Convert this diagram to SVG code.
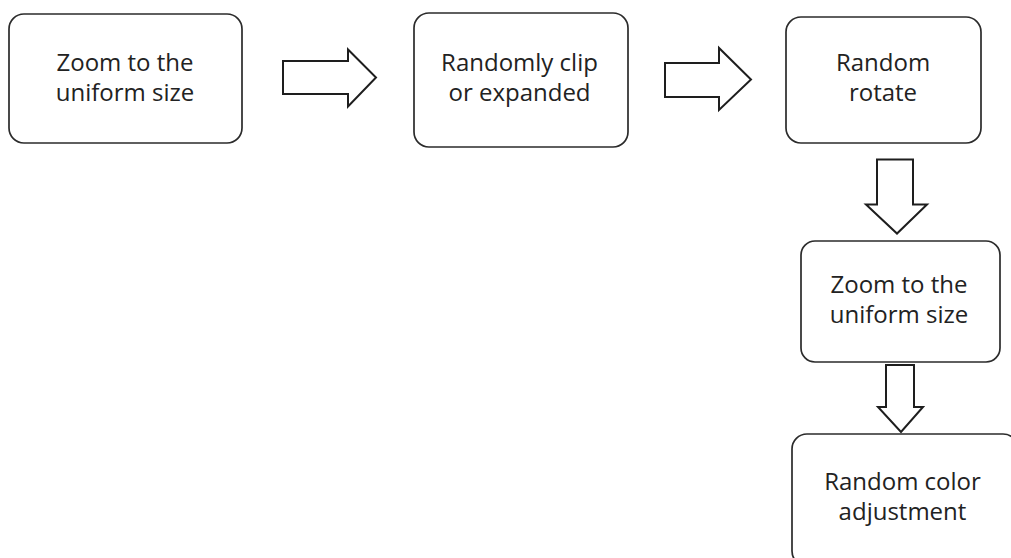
<svg xmlns="http://www.w3.org/2000/svg" width="1011" height="558" viewBox="0 0 1011 558">
  <style>
    .box { fill: #ffffff; stroke: #2b2b2b; stroke-width: 1.7; }
    .arrow { fill: #ffffff; stroke: #1e1e1e; stroke-width: 2; stroke-linejoin: miter; }
    .label { font-family: "Open Sans", "Noto Sans", "Liberation Sans", sans-serif; font-size: 24px; fill: #222222; text-anchor: middle; }
  </style>
  <rect width="1011" height="558" fill="#ffffff"/>

  <!-- block arrows between steps -->
  <g id="connectors">
    <polygon class="arrow" points="283,61 348,61 348,49.5 376,77.5 348,106.5 348,94 283,94"/>
    <polygon class="arrow" points="665,63 719,63 719,48 751,79.5 719,110 719,97 665,97"/>
    <polygon class="arrow" points="877,159.5 913,159.5 913,204.5 927,204.5 897,233.5 866,204.5 877,204.5"/>
    <polygon class="arrow" points="886,365 914,365 914,407 923,407 901,432 878,407 886,407"/>
  </g>

  <g id="node-zoom-1">
    <rect class="box" x="9" y="14" width="233" height="129" rx="15"/>
    <text class="label" x="125" y="71">Zoom to the</text>
    <text class="label" x="125" y="101">uniform size</text>
  </g>

  <g id="node-clip">
    <rect class="box" x="414" y="13" width="214" height="134" rx="15"/>
    <text class="label" x="519.5" y="71">Randomly clip</text>
    <text class="label" x="519.5" y="101">or expanded</text>
  </g>

  <g id="node-rotate">
    <rect class="box" x="786" y="17" width="195" height="126" rx="15"/>
    <text class="label" x="883" y="71">Random</text>
    <text class="label" x="883" y="101">rotate</text>
  </g>

  <g id="node-zoom-2">
    <rect class="box" x="801" y="241" width="199" height="121" rx="14"/>
    <text class="label" x="899" y="293">Zoom to the</text>
    <text class="label" x="899" y="323">uniform size</text>
  </g>

  <g id="node-color">
    <rect class="box" x="792" y="434" width="226" height="132" rx="15"/>
    <text class="label" x="902.5" y="490">Random color</text>
    <text class="label" x="902.5" y="520">adjustment</text>
  </g>
</svg>
